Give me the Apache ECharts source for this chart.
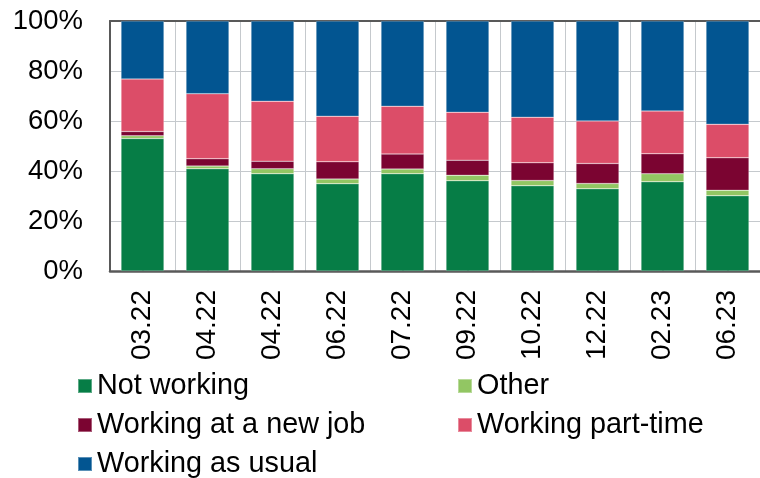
<!DOCTYPE html>
<html>
<head>
<meta charset="utf-8">
<script src="https://cdn.jsdelivr.net/npm/echarts@6/dist/echarts.min.js"></script>
<style>
  html, body { margin: 0; padding: 0; background: #fff; }
  #chart { width: 760px; height: 478px; }
</style>
</head>
<body>
<div id="chart"></div>
<script>
// Survey waves (month.year)
const categories = ['03.22', '04.22', '04.22', '06.22', '07.22', '09.22', '10.22', '12.22', '02.23', '06.23'];

// Shares of respondents, % (stacked bottom to top)
const notWorking      = [53.0, 40.9, 38.9, 34.9, 38.9, 36.1, 34.1, 32.9, 35.7, 30.1];
const other           = [1.1,  1.1,  2.0,  1.9,  1.9,  2.2,  2.1,  2.1,  3.2,  2.2];
const newJob          = [1.7,  2.9,  3.0,  6.9,  6.0,  6.0,  7.1,  8.0,  8.0,  13.0];
const partTime        = [21.0, 26.0, 24.0, 18.2, 19.1, 19.2, 18.2, 17.0, 17.1, 13.4];
const asUsual         = [23.2, 29.1, 32.1, 38.1, 34.1, 36.5, 38.5, 40.0, 36.0, 41.3];

const yTicks = { min: 0, max: 100, interval: 20 };

const seriesDefs = [
  { name: 'Not working',          data: notWorking, color: '#067D46' },
  { name: 'Other',                data: other,      color: '#92C663' },
  { name: 'Working at a new job', data: newJob,     color: '#7B0431' },
  { name: 'Working part-time',    data: partTime,   color: '#DC4D68' },
  { name: 'Working as usual',     data: asUsual,    color: '#025591' }
];

const font = "'Liberation Sans', Arial, sans-serif";
const frame = '#595959';
const grid = '#C5C9CD';

const legendBase = {
  orient: 'vertical', top: 371, height: 140, padding: 0,
  itemWidth: 14, itemHeight: 14, itemGap: 9, icon: 'rect',
  textStyle: { fontFamily: font, fontSize: 28.8, color: '#000', lineHeight: 30 }
};

const chart = echarts.init(document.getElementById('chart'), null, { renderer: 'canvas' });

chart.setOption({
  animation: false,
  backgroundColor: '#fff',
  grid: { left: 110, right: -6, top: 21, bottom: 207, containLabel: false },
  legend: [
    Object.assign({}, legendBase, { left: 77, data: ['Not working', 'Working at a new job', 'Working as usual'] }),
    Object.assign({}, legendBase, { left: 457, data: ['Other', 'Working part-time'] })
  ],
  xAxis: [
    {
      type: 'category', data: categories, position: 'bottom',
      axisLine: { show: true, lineStyle: { color: frame, width: 2.5 } },
      axisTick: { show: true, inside: true, length: 5, alignWithLabel: true, lineStyle: { color: frame, width: 2 } },
      axisLabel: { rotate: 90, margin: 19, fontFamily: font, fontSize: 28, color: '#000' },
      splitLine: { show: false }
    },
    {
      type: 'category', data: categories, position: 'top',
      axisLine: { show: true, lineStyle: { color: frame, width: 2 } },
      axisTick: { show: false },
      axisLabel: { show: false },
      splitLine: { show: true, lineStyle: { color: grid, width: 1 } }
    }
  ],
  yAxis: {
    type: 'value', min: yTicks.min, max: yTicks.max, interval: yTicks.interval,
    axisLine: { show: true, lineStyle: { color: frame, width: 2 } },
    axisTick: { show: false },
    axisLabel: { margin: 27, fontFamily: font, fontSize: 27.5, color: '#000', formatter: '{value}%' },
    splitLine: { show: true, lineStyle: { color: grid, width: 1 } }
  },
  series: seriesDefs.map(s => ({
    name: s.name,
    type: 'bar',
    stack: 'total',
    xAxisIndex: 0,
    barWidth: 43,
    data: s.data,
    itemStyle: { color: s.color, borderColor: 'rgba(255,255,255,0.35)', borderWidth: 0.6 }
  }))
});
</script>
</body>
</html>
